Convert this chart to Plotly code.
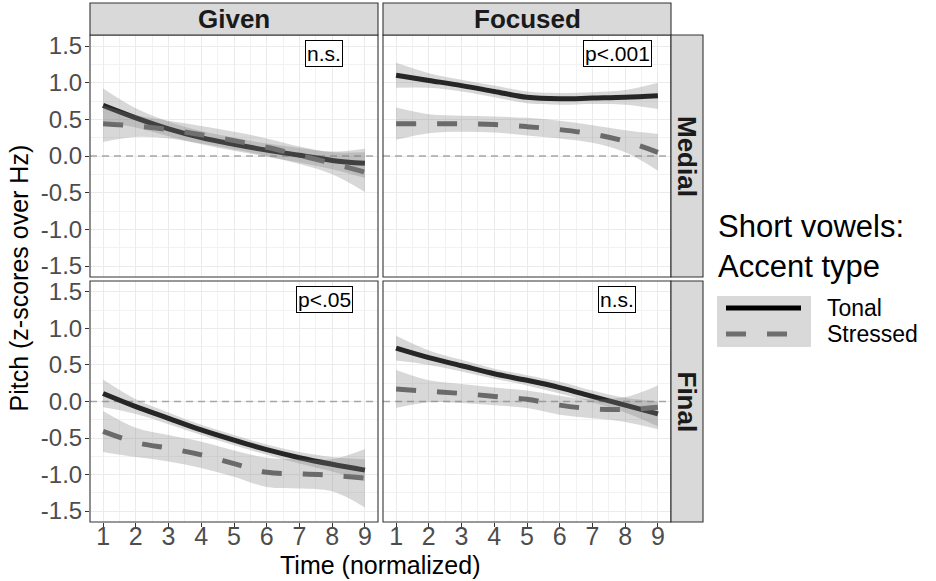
import plotly.graph_objects as go

# ---------------- data ----------------
time_pts = [1, 2, 3, 4, 5, 6, 7, 8, 9]
col_labels = ["Given", "Focused"]
row_labels = ["Medial", "Final"]
series_names = ["Tonal", "Stressed"]
y_ticks = [-1.5, -1.0, -0.5, 0.0, 0.5, 1.0, 1.5]
y_tick_text = ["-1.5", "-1.0", "-0.5", "0.0", "0.5", "1.0", "1.5"]
x_ticks = [1, 2, 3, 4, 5, 6, 7, 8, 9]
x_tick_text = ["1", "2", "3", "4", "5", "6", "7", "8", "9"]
x_range = [0.6, 9.4]
y_range = [-1.65, 1.65]
ref_level = 0.0

# Given / Medial
gm_tonal = [0.69, 0.52, 0.37, 0.25, 0.16, 0.08, 0.01, -0.06, -0.10]
gm_tonal_ci = [0.23, 0.13, 0.10, 0.09, 0.09, 0.09, 0.10, 0.12, 0.20]
gm_stressed = [0.44, 0.41, 0.36, 0.29, 0.21, 0.12, 0.01, -0.10, -0.22]
gm_stressed_ci = [0.25, 0.15, 0.12, 0.12, 0.12, 0.12, 0.12, 0.15, 0.27]
# Focused / Medial
fm_tonal = [1.10, 1.03, 0.96, 0.88, 0.80, 0.78, 0.79, 0.80, 0.82]
fm_tonal_ci = [0.17, 0.10, 0.08, 0.08, 0.08, 0.08, 0.08, 0.10, 0.18]
fm_stressed = [0.44, 0.44, 0.44, 0.43, 0.40, 0.36, 0.30, 0.20, 0.05]
fm_stressed_ci = [0.22, 0.13, 0.11, 0.11, 0.12, 0.12, 0.12, 0.15, 0.25]
# Given / Final
gf_tonal = [0.11, -0.07, -0.23, -0.39, -0.53, -0.66, -0.77, -0.86, -0.94]
gf_tonal_ci = [0.19, 0.10, 0.08, 0.07, 0.07, 0.07, 0.08, 0.10, 0.15]
gf_stressed = [-0.41, -0.56, -0.64, -0.73, -0.85, -0.97, -0.99, -1.01, -1.05]
gf_stressed_ci = [0.28, 0.20, 0.18, 0.18, 0.18, 0.20, 0.20, 0.22, 0.40]
# Focused / Final
ff_tonal = [0.73, 0.60, 0.49, 0.38, 0.29, 0.19, 0.07, -0.05, -0.17]
ff_tonal_ci = [0.17, 0.10, 0.08, 0.07, 0.07, 0.08, 0.08, 0.10, 0.17]
ff_stressed = [0.17, 0.14, 0.11, 0.07, 0.03, -0.05, -0.10, -0.11, -0.08]
ff_stressed_ci = [0.26, 0.15, 0.13, 0.12, 0.12, 0.13, 0.13, 0.17, 0.30]

sig_labels = ["n.s.", "p<.001", "p<.05", "n.s."]
sig_x = 7.75
sig_y = 1.4

panels = [
    (gm_tonal, gm_tonal_ci, gm_stressed, gm_stressed_ci),
    (fm_tonal, fm_tonal_ci, fm_stressed, fm_stressed_ci),
    (gf_tonal, gf_tonal_ci, gf_stressed, gf_stressed_ci),
    (ff_tonal, ff_tonal_ci, ff_stressed, ff_stressed_ci),
]

# ---------------- layout geometry (pixels) ----------------
W, H = 936, 581
FONT = "Liberation Sans, Arial, sans-serif"
def px(v):
    return v / W
def py(v):
    return 1 - v / H

col_px = [(90, 378), (383, 671)]
row_px = [(35, 277), (281, 522)]
strip_top = 3
strip_right = 703

fig = go.Figure()

line_colors = ["#000000", "#626262"]
line_dash = ["solid", "20px,21px"]
ribbon_fill = "rgba(127,127,127,0.3)"

for i, (t, tci, s, sci) in enumerate(panels):
    ax = "" if i == 0 else str(i + 1)
    xr, yr = "x" + ax, "y" + ax
    # zero reference line across the panel
    fig.add_trace(go.Scatter(x=x_range, y=[ref_level, ref_level], mode="lines", xaxis=xr, yaxis=yr,
                             line=dict(color="#a6a6a6", width=1.6, dash="7px,5px"),
                             showlegend=False, hoverinfo="skip"))
    for vals, col, dash in [(t, line_colors[0], line_dash[0]), (s, line_colors[1], line_dash[1])]:
        fig.add_trace(go.Scatter(x=time_pts, y=vals, mode="lines", xaxis=xr, yaxis=yr,
                                 line=dict(color=col, width=5, dash=dash, shape="spline", smoothing=1),
                                 showlegend=False, hoverinfo="skip"))
    for vals, ci in [(t, tci), (s, sci)]:
        upper = [v + c for v, c in zip(vals, ci)]
        lower = [v - c for v, c in zip(vals, ci)]
        fig.add_trace(go.Scatter(x=time_pts, y=lower, mode="lines",
                                 line=dict(width=0, shape="spline", smoothing=1),
                                 xaxis=xr, yaxis=yr, showlegend=False, hoverinfo="skip"))
        fig.add_trace(go.Scatter(x=time_pts, y=upper, mode="lines", fill="tonexty", fillcolor=ribbon_fill,
                                 line=dict(width=0, shape="spline", smoothing=1),
                                 xaxis=xr, yaxis=yr, showlegend=False, hoverinfo="skip"))
    fig.add_annotation(x=sig_x, y=sig_y, xref=xr, yref=yr, text=sig_labels[i], showarrow=False,
                       xanchor="center", yanchor="middle",
                       font=dict(family=FONT, size=21, color="black"), bgcolor="white",
                       bordercolor="black", borderwidth=1, borderpad=1)

layout = dict(width=W, height=H, margin=dict(l=0, r=0, t=0, b=0, autoexpand=False),
              plot_bgcolor="white", paper_bgcolor="white", showlegend=False,
              font=dict(family=FONT))

for i in range(4):
    r, c = divmod(i, 2)
    ax = "" if i == 0 else str(i + 1)
    xa = dict(domain=[px(col_px[c][0]), px(col_px[c][1])], anchor="y" + ax,
              range=x_range, tickmode="array", tickvals=x_ticks, ticktext=x_tick_text,
              showgrid=True, gridcolor="#ebebeb", gridwidth=1.2, zeroline=False,
              minor=dict(tickmode="array", tickvals=[v + 0.5 for v in x_ticks[:-1]],
                         showgrid=True, gridcolor="#f2f2f2", gridwidth=0.7, ticks=""),
              showline=False, fixedrange=True, automargin=False)
    ya = dict(domain=[py(row_px[r][1]), py(row_px[r][0])], anchor="x" + ax,
              range=y_range, tickmode="array", tickvals=y_ticks, ticktext=y_tick_text,
              showgrid=True, gridcolor="#ebebeb", gridwidth=1.2, zeroline=False,
              minor=dict(tickmode="array", tickvals=[v + 0.25 for v in y_ticks[:-1]],
                         showgrid=True, gridcolor="#f2f2f2", gridwidth=0.7, ticks=""),
              showline=False, fixedrange=True, automargin=False)
    if r == 1:
        xa.update(ticks="outside", ticklen=4, tickcolor="#333333", tickwidth=1,
                  ticklabelstandoff=-12,
                  showticklabels=True, tickfont=dict(family=FONT, size=25, color="#4d4d4d"))
    else:
        xa.update(ticks="", showticklabels=False)
    if c == 0:
        ya.update(ticks="outside", ticklen=4, tickcolor="#333333", tickwidth=1,
                  ticklabelstandoff=-2,
                  showticklabels=True, tickfont=dict(family=FONT, size=24, color="#4d4d4d"))
    else:
        ya.update(ticks="", showticklabels=False)
    layout["xaxis" + ax] = xa
    layout["yaxis" + ax] = ya

fig.update_layout(**layout)

# panel borders and strips
for r in range(2):
    for c in range(2):
        fig.add_shape(type="rect", xref="paper", yref="paper",
                      x0=px(col_px[c][0]), x1=px(col_px[c][1]),
                      y0=py(row_px[r][1]), y1=py(row_px[r][0]),
                      line=dict(color="#333333", width=1.1), fillcolor="rgba(0,0,0,0)", layer="above")
for c in range(2):
    fig.add_shape(type="rect", xref="paper", yref="paper",
                  x0=px(col_px[c][0]), x1=px(col_px[c][1]), y0=py(row_px[0][0]), y1=py(strip_top),
                  line=dict(color="#333333", width=1.1), fillcolor="#d9d9d9", layer="above")
    fig.add_annotation(xref="paper", yref="paper", x=px((col_px[c][0] + col_px[c][1]) / 2),
                       y=py((strip_top + row_px[0][0]) / 2), text="<b>%s</b>" % col_labels[c],
                       xanchor="center", yanchor="middle",
                       showarrow=False, font=dict(family=FONT, size=26, color="#1a1a1a"))
for r in range(2):
    fig.add_shape(type="rect", xref="paper", yref="paper",
                  x0=px(col_px[1][1]), x1=px(strip_right), y0=py(row_px[r][1]), y1=py(row_px[r][0]),
                  line=dict(color="#333333", width=1.1), fillcolor="#d9d9d9", layer="above")
    fig.add_annotation(xref="paper", yref="paper", x=px((col_px[1][1] + strip_right) / 2),
                       y=py((row_px[r][0] + row_px[r][1]) / 2), text="<b>%s</b>" % row_labels[r],
                       xanchor="center", yanchor="middle",
                       textangle=90, showarrow=False, font=dict(family=FONT, size=26, color="#1a1a1a"))

# axis titles
fig.add_annotation(xref="paper", yref="paper", x=px((col_px[0][0] + col_px[1][1]) / 2), y=py(565),
                   xanchor="center", yanchor="middle",
                   text="Time (normalized)", showarrow=False,
                   font=dict(family=FONT, size=25, color="black"))
fig.add_annotation(xref="paper", yref="paper", x=px(18), y=py((row_px[0][0] + row_px[1][1]) / 2),
                   xanchor="center", yanchor="middle",
                   text="Pitch (z-scores over Hz)", textangle=-90, showarrow=False,
                   font=dict(family=FONT, size=25, color="black"))

# manual legend
fig.add_annotation(xref="paper", yref="paper", x=px(716), y=py(247), xanchor="left", yanchor="middle",
                   align="left", text="Short vowels:<br>Accent type", showarrow=False,
                   font=dict(family=FONT, size=31, color="black"))
fig.add_shape(type="rect", xref="paper", yref="paper", x0=px(717), x1=px(811), y0=py(347), y1=py(296),
              fillcolor="#d9d9d9", line=dict(width=0), layer="above")
fig.add_shape(type="line", xref="paper", yref="paper", x0=px(726), x1=px(801), y0=py(308), y1=py(308),
              line=dict(color="#000000", width=5), layer="above")
fig.add_shape(type="line", xref="paper", yref="paper", x0=px(726), x1=px(801), y0=py(334), y1=py(334),
              line=dict(color="#6e6e6e", width=5, dash="20px,21px"), layer="above")
for lbl, yy in zip(series_names, [308, 334]):
    fig.add_annotation(xref="paper", yref="paper", x=px(826), y=py(yy), xanchor="left", yanchor="middle",
                       text=lbl, showarrow=False, font=dict(family=FONT, size=23, color="black"),
                       borderpad=0)

fig.write_html("out.html", config={"displayModeBar": False},
               post_script="document.body.style.margin='0';document.body.style.padding='0';"
                           "document.documentElement.style.overflow='hidden';")
